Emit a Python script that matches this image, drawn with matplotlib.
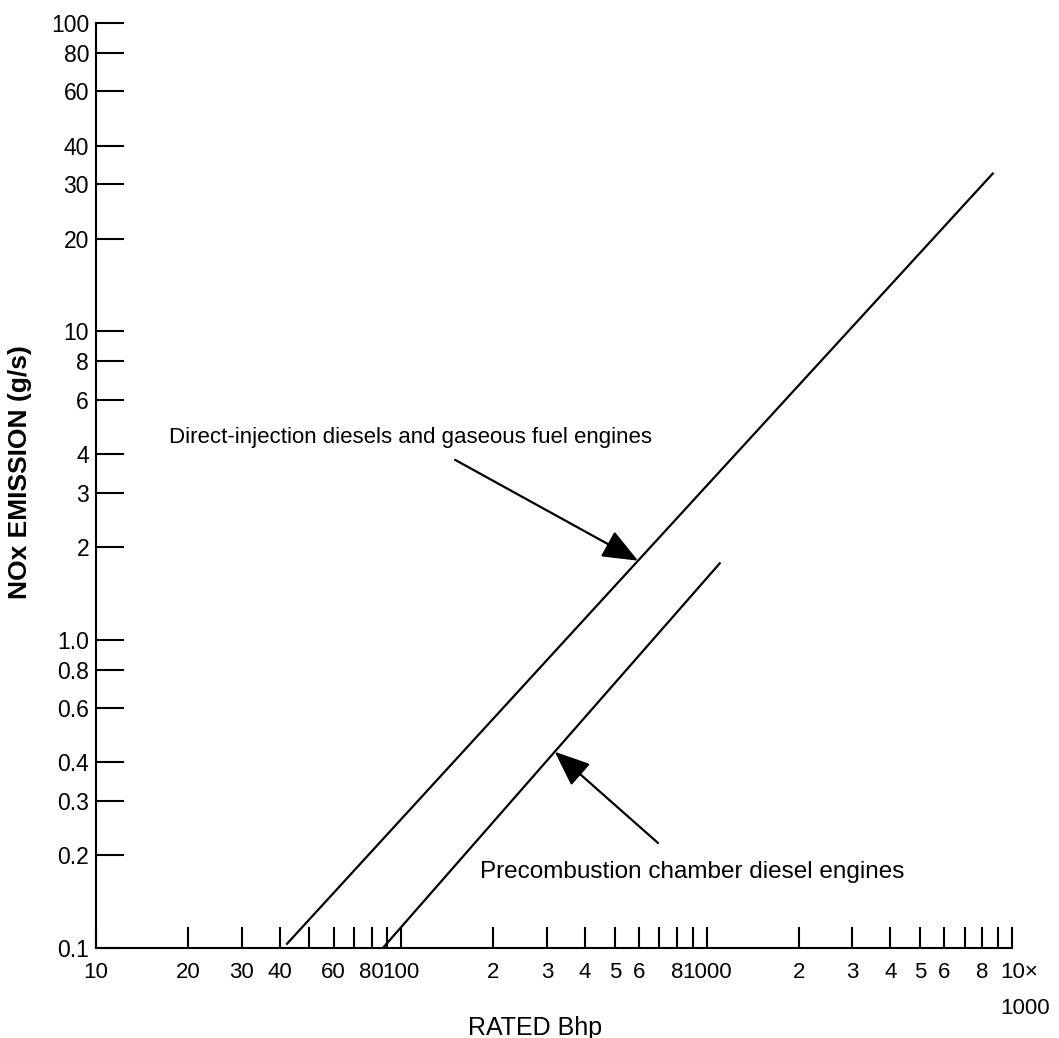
import matplotlib
matplotlib.use('Agg')
import matplotlib.pyplot as plt
import matplotlib.transforms as mtransforms
import numpy as np

plt.rcParams['font.family'] = ['Liberation Sans', 'DejaVu Sans']

# line end points (Bhp, g/s)
direct_bhp = [42, 8700]
direct_nox = [0.1026, 32.7]
precomb_bhp = [87, 1110]
precomb_nox = [0.1, 1.78]

x_ticks = [10, 20, 30, 40, 50, 60, 70, 80, 90, 100,
           200, 300, 400, 500, 600, 700, 800, 900, 1000,
           2000, 3000, 4000, 5000, 6000, 7000, 8000, 9000, 10000]
x_labels = ['10', '20', '30', '40', '', '60', '', '80', '', '100',
            '2', '3', '4', '5', '6', '', '8', '', '1000',
            '2', '3', '4', '5', '6', '', '8', '', '10×']
y_ticks = [0.1, 0.2, 0.3, 0.4, 0.6, 0.8, 1.0, 2, 3, 4, 6, 8,
           10, 20, 30, 40, 60, 80, 100]
y_labels = ['0.1', '0.2', '0.3', '0.4', '0.6', '0.8', '1.0', '2', '3', '4', '6', '8',
            '10', '20', '30', '40', '60', '80', '100']

fig = plt.figure(figsize=(10.59, 10.38), dpi=100)
ax = fig.add_axes([96/1059, 1-948/1038, 916/1059, 925/1038])

ax.plot(direct_bhp, direct_nox, color='black', lw=1.6, solid_capstyle='butt')
ax.plot(precomb_bhp, precomb_nox, color='black', lw=1.6, solid_capstyle='butt')

ax.set_xscale('log')
ax.set_yscale('log')
ax.set_xlim(10, 10000)
ax.set_ylim(0.1, 100)

ax.set_xticks(x_ticks)
ax.set_xticklabels(x_labels)
ax.set_yticks(y_ticks)
ax.set_yticklabels(y_labels)
ax.minorticks_off()

for s in ['top', 'right']:
    ax.spines[s].set_visible(False)
for s in ['left', 'bottom']:
    ax.spines[s].set_linewidth(1.5)

ax.tick_params(axis='x', direction='in', length=15, width=1.5, pad=10, labelsize=16)
ax.tick_params(axis='y', direction='in', length=20, width=1.5, pad=5, labelsize=16.5)

# last x label sits a bit right of its tick, with "1000" under it
last = ax.get_xticklabels()[-1]
last.set_ha('left')
last.set_transform(last.get_transform() + mtransforms.ScaledTranslation(-12/100, 0, fig.dpi_scale_trans))
fig.text(1000/1059, 1-1009/1038, '1000', ha='left', va='center', fontsize=16)

fig.text(535/1059, 1-1028/1038, 'RATED Bhp', ha='center', va='center', fontsize=18)
fig.text(20/1059, 1-472/1038, 'NOx EMISSION (g/s)', ha='center', va='center',
         rotation=90, fontsize=19, fontweight='bold')

# labels with arrows pointing onto the lines
def on_line(bx, xs, ys):
    return 10 ** np.interp(np.log10(bx), np.log10(xs), np.log10(ys))

tip1 = 596
ax.annotate('', xy=(tip1, on_line(tip1, direct_bhp, direct_nox)), xytext=(150, 3.83),
            arrowprops=dict(arrowstyle='-|>,head_length=1.1,head_width=0.45',
                            color='black', lw=1.6, mutation_scale=20, shrinkA=0, shrinkB=0))
ax.text(107, 4.54, 'Direct-injection diesels and gaseous fuel engines',
        ha='center', va='center', fontsize=16)

tip2 = 318
ax.annotate('', xy=(tip2, on_line(tip2, precomb_bhp, precomb_nox)), xytext=(693, 0.219),
            arrowprops=dict(arrowstyle='-|>,head_length=1.1,head_width=0.45',
                            color='black', lw=1.6, mutation_scale=20, shrinkA=0, shrinkB=0))
ax.text(896, 0.176, 'Precombustion chamber diesel engines',
        ha='center', va='center', fontsize=17.5)

fig.savefig('out.png', dpi=100)
